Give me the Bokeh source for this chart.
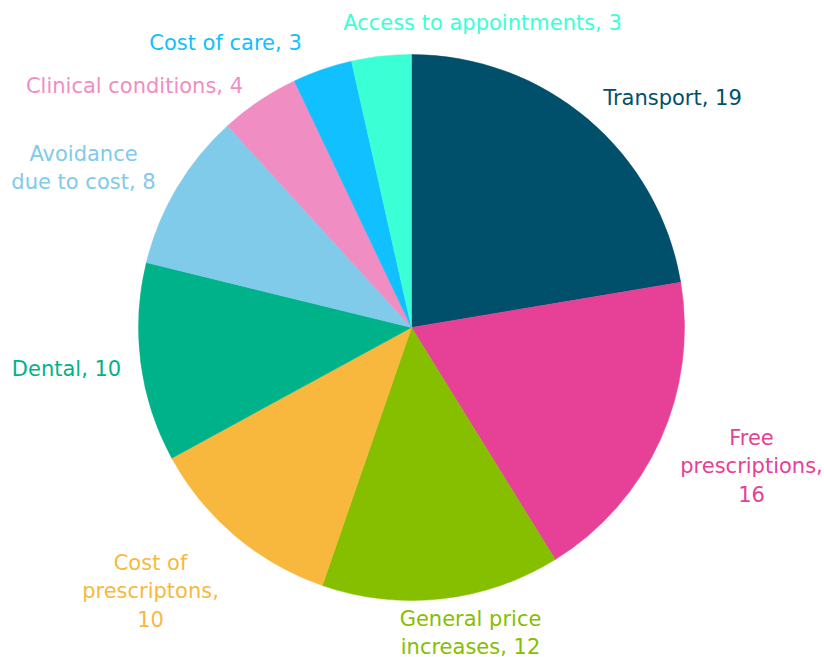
import math
from bokeh.plotting import figure
from bokeh.models import ColumnDataSource, Range1d
from bokeh.core.properties import value
from bokeh.embed import file_html
from bokeh.resources import INLINE

categories = ["Transport", "Free prescriptions", "General price increases",
              "Cost of prescriptons", "Dental", "Avoidance due to cost",
              "Clinical conditions", "Cost of care", "Access to appointments"]
values = [19, 16, 12, 10, 10, 8, 4, 3, 3]
colors = ["#00506B", "#E64097", "#86BE00", "#F8B83E", "#00B28A",
          "#80CAEA", "#F08DC3", "#11C0FF", "#3BFFD5"]
label_lines = [
    ["Transport, 19"],
    ["Free", "prescriptions,", "16"],
    ["General price", "increases, 12"],
    ["Cost of", "prescriptons,", "10"],
    ["Dental, 10"],
    ["Avoidance", "due to cost, 8"],
    ["Clinical conditions, 4"],
    ["Cost of care, 3"],
    ["Access to appointments, 3"],
]

W, H = 824, 657
# layout (pixel coords of label centres, first line)
label_pos = [(672, 97), (751, 437), (470, 618), (150, 562), (66, 368),
             (83, 153), (134, 85), (225, 42), (482, 22)]
LINE_H = 28
cx_page, cy_page, R = 411, 327, 273

def dx(px):
    return px

def dy(py):
    return H - py

total = sum(values)
starts, ends = [], []
cum = 0
for v in values:
    starts.append(math.pi / 2 - 2 * math.pi * cum / total)
    cum += v
    ends.append(math.pi / 2 - 2 * math.pi * cum / total)

src = ColumnDataSource(dict(cat=categories, val=values, color=colors,
                            start=starts, end=ends))

p = figure(width=W, height=H, output_backend="svg", toolbar_location=None,
           x_range=Range1d(0, W), y_range=Range1d(0, H), min_border=0)
p.axis.visible = False
p.grid.visible = False
p.outline_line_color = None
p.background_fill_color = "white"
p.border_fill_color = "white"

p.wedge(x=dx(cx_page), y=dy(cy_page), radius=R, start_angle="start",
        end_angle="end", direction="clock", fill_color="color",
        line_color="color", line_width=0.5, source=src)

tx, ty, tt, tc = [], [], [], []
for lines, (lx, ly), c in zip(label_lines, label_pos, colors):
    for i, t in enumerate(lines):
        tx.append(dx(lx))
        ty.append(dy(ly + i * LINE_H))
        tt.append(t)
        tc.append(c)
p.text(x=tx, y=ty, text=tt, text_color=tc, text_align="center",
       text_baseline="middle", text_font=value("DejaVu Sans"),
       text_font_size="21px")

open("out.html", "w").write(file_html(p, INLINE))
